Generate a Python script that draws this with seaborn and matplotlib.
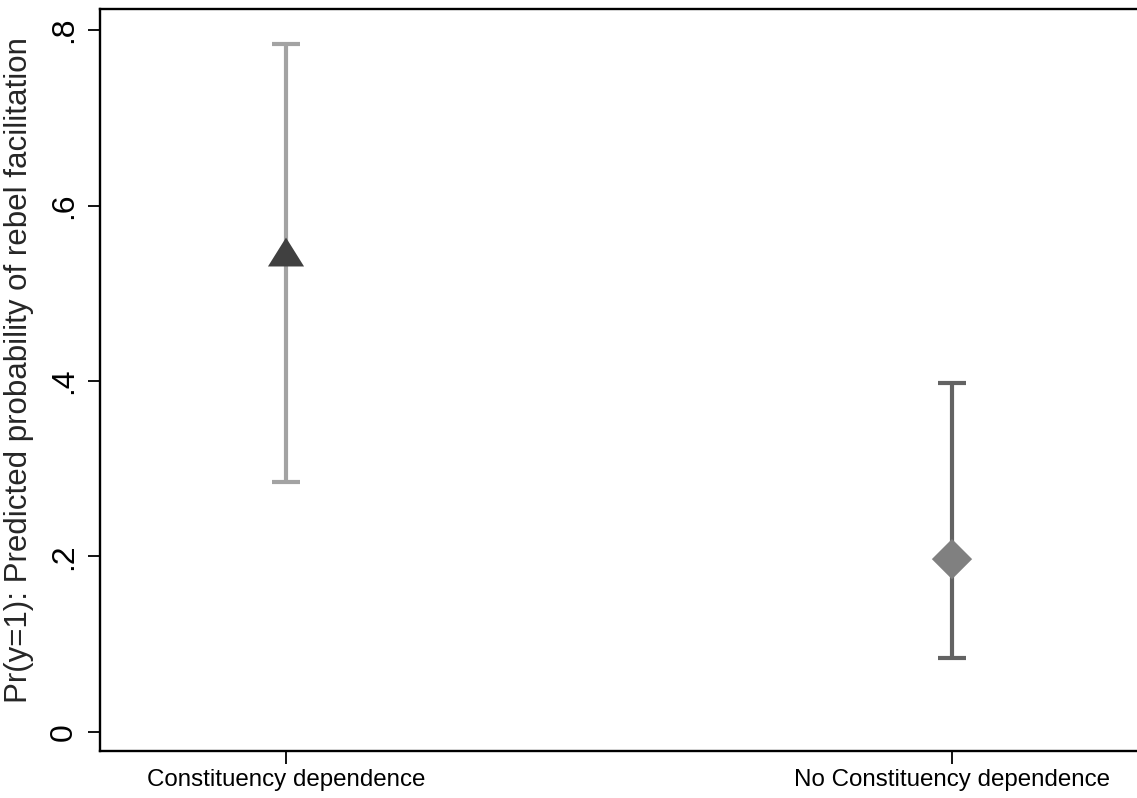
import matplotlib
matplotlib.use("Agg")
import matplotlib.pyplot as plt
import seaborn as sns
import pandas as pd
import numpy as np

# Predicted probabilities with 95% confidence intervals
groups = ["Constituency dependence", "No Constituency dependence"]
estimate = [0.547, 0.197]
lower = [0.285, 0.084]
upper = [0.784, 0.398]

bar_colors = ["#a3a3a3", "#636363"]
marker_colors = ["#404040", "#808080"]

df = pd.DataFrame({"group": groups, "estimate": estimate,
                   "lower": lower, "upper": upper})
df["pos"] = np.arange(len(df))

sns.set_theme(style="white")
plt.rcParams["font.family"] = ["Liberation Sans", "DejaVu Sans"]

fig = plt.figure(figsize=(11.37, 7.98), dpi=100)
ax = fig.add_axes([100 / 1137, 1 - 751 / 798, 1037 / 1137, 742 / 798])

# Confidence intervals
for i, row in df.iterrows():
    ax.errorbar(row["pos"], row["estimate"],
                yerr=[[row["estimate"] - row["lower"]], [row["upper"] - row["estimate"]]],
                fmt="none", ecolor=bar_colors[i], elinewidth=3.0,
                capsize=10, capthick=3.0, zorder=2)

# Point estimates
tri = [(0, 0.8), (-1, -0.8), (1, -0.8)]
diamond = [(0, 1), (1, 0), (0, -1), (-1, 0)]
markers = [tri, diamond]
sizes = [26, 29]
for i, row in df.iterrows():
    sns.scatterplot(x=[row["pos"]], y=[row["estimate"]], ax=ax,
                    marker=markers[i], s=sizes[i] ** 2,
                    color=marker_colors[i], edgecolor="none",
                    linewidth=0, zorder=3, legend=False)

ax.set_xlim(-0.2793, 1.2778)
ax.set_ylim(-0.0217, 0.824)

ax.set_xticks(df["pos"])
ax.set_xticklabels(df["group"], fontsize=17.4)
yticks = [0, 0.2, 0.4, 0.6, 0.8]
ax.set_yticks(yticks)
ax.set_yticklabels(["0", ".2", ".4", ".6", ".8"], fontsize=23, rotation=90,
                   va="center")

ax.set_xlabel("")
ax.set_ylabel("Pr(y=1): Predicted probability of rebel facilitation",
              fontsize=22.5)
ax.yaxis.set_label_coords(-0.0637, 0.513)

for side in ["left", "bottom", "top"]:
    ax.spines[side].set_visible(True)
    ax.spines[side].set_color("black")
    ax.spines[side].set_linewidth(1.7)
ax.spines["right"].set_visible(False)

ax.tick_params(axis="both", which="major", direction="out", length=9,
               width=1.3, color="black", left=True, bottom=True,
               labelcolor="black")
ax.tick_params(axis="y", pad=6)
ax.tick_params(axis="x", pad=4)
ax.grid(False)

fig.savefig("out.png", dpi=100)
